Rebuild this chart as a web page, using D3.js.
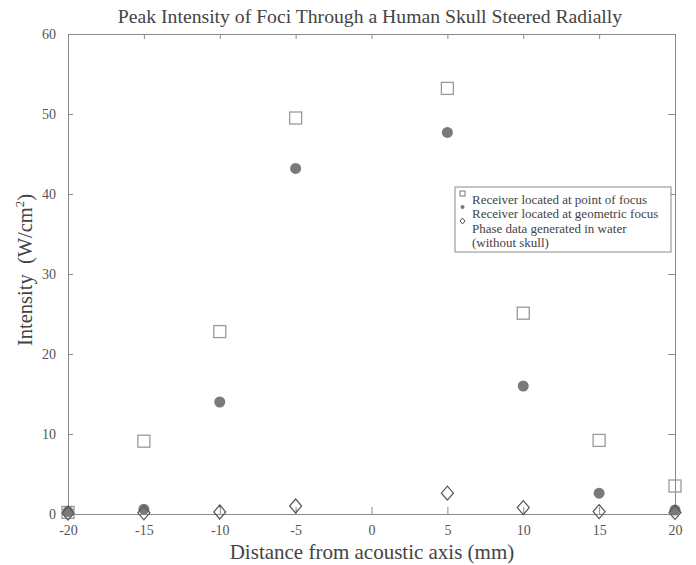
<!DOCTYPE html>
<html lang="en">
<head>
    <meta charset="UTF-8">
    <title>Peak Intensity of Foci</title>
    <script src="https://d3js.org/d3.v7.min.js"></script>
    <style>
        body { margin: 0; background: white; }
        svg text { font-family: "Liberation Serif", "DejaVu Serif", serif; fill: #444; }
        .axis path, .axis line { stroke: #8a8a8a; stroke-width: 1px; }
        .axis text { font-size: 14px; fill: #555; }
    </style>
</head>
<body>
<svg id="canvas" width="696" height="565"></svg>
<script>
    // distances from the acoustic axis (mm)
    let distances = [-20, -15, -10, -5, 5, 10, 15, 20];
    // receiver located at point of focus
    let pointFocus = [0.2, 9.1, 22.8, 49.5, 53.2, 25.1, 9.2, 3.5];
    // receiver located at geometric focus
    let geoFocus = [0.3, 0.6, 14.0, 43.2, 47.7, 16.0, 2.6, 0.5];
    // phase data generated in water
    let waterPhase = [0.1, 0.15, 0.25, 1.0, 2.6, 0.8, 0.3, 0.2];

    let xTicks = [-20, -15, -10, -5, 0, 5, 10, 15, 20];
    let yTicks = [0, 10, 20, 30, 40, 50, 60];
    let legendLines = ["Receiver located at point of focus", "Receiver located at geometric focus",
        "Phase data generated in water", "(without skull)"];

    let svg = d3.select('svg');
    let x = d3.scaleLinear().domain([-20, 20]).range([68, 675]);
    let y = d3.scaleLinear().domain([0, 60]).range([514, 34]);
    let fmt = function (d) { return String(d); };   // plain hyphen, not unicode minus

    // box frame
    svg.append('g').attr('class', 'axis')
        .attr('transform', 'translate(0,34)')
        .call(d3.axisTop(x).tickValues(xTicks).tickSizeInner(-5).tickSizeOuter(0).tickFormat(''));
    svg.append('g').attr('class', 'axis')
        .attr('transform', 'translate(675,0)')
        .call(d3.axisRight(y).tickValues(yTicks).tickSizeInner(-7).tickSizeOuter(0).tickFormat(''));

    let xAxis = svg.append('g').attr('class', 'axis')
        .attr('transform', 'translate(0,514)')
        .call(d3.axisBottom(x).tickValues(xTicks).tickSizeInner(-7).tickSizeOuter(0).tickPadding(11).tickFormat(fmt));
    xAxis.selectAll('text').attr('dy', '0.71em');

    svg.append('g').attr('class', 'axis')
        .attr('transform', 'translate(68,0)')
        .call(d3.axisLeft(y).tickValues(yTicks).tickSizeInner(-5).tickSizeOuter(0).tickPadding(12).tickFormat(fmt));

    // markers
    let pts = distances.map(function (d, i) {
        return {d: d, p: pointFocus[i], g: geoFocus[i], w: waterPhase[i]};
    });

    let marks = svg.append('g');
    marks.selectAll('rect.sq').data(pts).enter().append('rect')
        .attr('class', 'sq')
        .attr('x', function (d) { return x(d.d) - 6; })
        .attr('y', function (d) { return y(d.p) - 6; })
        .attr('width', 12).attr('height', 12)
        .attr('fill', 'none').attr('stroke', '#9a9a9a').attr('stroke-width', 1.3);

    marks.selectAll('circle').data(pts).enter().append('circle')
        .attr('cx', function (d) { return x(d.d); })
        .attr('cy', function (d) { return y(d.g); })
        .attr('r', 5.5)
        .attr('fill', '#7a7a7a');

    let diamond = function (cx, cy) {
        return 'M' + cx + ',' + (cy - 7) + 'L' + (cx + 6) + ',' + cy + 'L' + cx + ',' + (cy + 7) + 'L' + (cx - 6) + ',' + cy + 'Z';
    };
    marks.selectAll('path.dm').data(pts).enter().append('path')
        .attr('class', 'dm')
        .attr('d', function (d) { return diamond(x(d.d), y(d.w)); })
        .attr('fill', 'none').attr('stroke', '#555').attr('stroke-width', 1.2);

    // legend
    let lg = svg.append('g');
    lg.append('rect').attr('x', 455).attr('y', 187).attr('width', 216).attr('height', 65)
        .attr('fill', 'white').attr('stroke', '#8a8a8a');
    lg.append('rect').attr('x', 460).attr('y', 191).attr('width', 5).attr('height', 5)
        .attr('fill', 'none').attr('stroke', '#777');
    lg.append('circle').attr('cx', 462.5).attr('cy', 207).attr('r', 2).attr('fill', '#777');
    lg.append('path').attr('d', 'M462.5,218L465,221L462.5,224L460,221Z')
        .attr('fill', 'none').attr('stroke', '#555');
    lg.selectAll('text.lt').data(legendLines).enter().append('text')
        .attr('class', 'lt')
        .attr('x', 472)
        .attr('y', function (d, i) { return [204, 218, 233, 247][i]; })
        .style('font-size', '13px')
        .text(function (d) { return d; });

    // titles
    svg.append('text').attr('x', 370).attr('y', 23).attr('text-anchor', 'middle')
        .style('font-size', '19.7px')
        .text('Peak Intensity of Foci Through a Human Skull Steered Radially');
    svg.append('text').attr('x', 372).attr('y', 559).attr('text-anchor', 'middle')
        .style('font-size', '21px')
        .text('Distance from acoustic axis (mm)');
    let yl = svg.append('text').attr('transform', 'translate(32,270) rotate(-90)')
        .attr('text-anchor', 'middle')
        .style('font-size', '20.5px')
        .style('white-space', 'pre');
    yl.append('tspan').text('Intensity  (W/cm');
    yl.append('tspan').attr('dy', -8).style('font-size', '13px').text('2');
    yl.append('tspan').attr('dy', 8).text(')');
</script>
</body>
</html>
